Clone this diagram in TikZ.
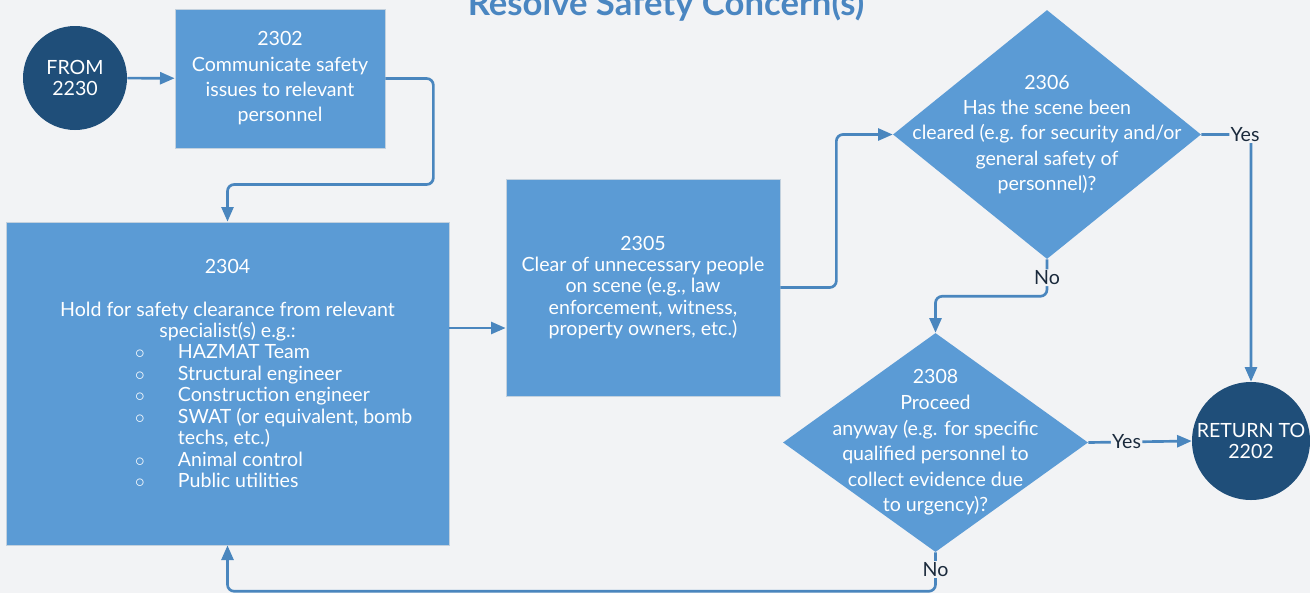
\documentclass[tikz,border=0pt]{standalone}
\usepackage{fontspec}
\setmainfont{Lato}
\usepackage{xcolor}
\usepackage{tikz}
\usetikzlibrary{arrows.meta,shapes.geometric}

\definecolor{bgcol}{HTML}{F2F3F5}
\definecolor{boxcol}{HTML}{5B9BD5}
\definecolor{edgecol}{HTML}{C3D1DE}
\definecolor{termcol}{HTML}{1F4E79}
\definecolor{arrowcol}{HTML}{4A86BE}
\definecolor{labcol}{HTML}{1B2A3C}
\definecolor{titlecol}{HTML}{4A86C1}

\tikzset{
	stepbox/.style={rectangle,fill=boxcol,draw=edgecol,line width=0.5pt,text=white,align=center,font=\fontsize{14.7}{19}\selectfont},
	decision/.style={diamond,fill=boxcol,inner sep=0pt},
	term/.style={circle,fill=termcol,text=white,align=center,inner sep=0pt,font=\fontsize{14.7}{16}\selectfont},
	flow/.style={draw=arrowcol,line width=2pt,rounded corners=5pt,-{Triangle[length=11pt,width=9pt]}},
	lbl/.style={fill=bgcol,text=labcol,inner sep=1pt,font=\fontsize{14.7}{16}\selectfont},
	title/.style={text=titlecol,font=\bfseries\fontsize{26}{30}\selectfont}
}

\begin{document}
\begin{tikzpicture}[x=0.75pt,y=-0.75pt]
	\useasboundingbox (0,0) rectangle (1310,593);
	\fill[bgcol] (0,0) rectangle (1310,593);
	%
	\node[title,anchor=base] (ttl) at (666,15) {Resolve Safety Concern(s)};
	%
	\node[term,minimum size=78pt] (from) at (75,78) {FROM\\2230};
	\node[term,minimum size=88.5pt] (ret) at (1251,441) {RETURN TO\\2202};
	%
	\node[stepbox,minimum width=157.5pt,minimum height=104.25pt] (b2302) at (280,78.5)
		{2302\\Communicate safety\\issues to relevant\\personnel};
	\node[stepbox,minimum width=332.25pt,minimum height=242.25pt,font=\fontsize{14.7}{16}\selectfont] (b2304) at (227.5,383.5)
		{2304\\[16pt]Hold for safety clearance from relevant\\specialist(s) e.g.:\\
		\makebox[138.75pt][l]{\begin{tabular}[t]{@{}l@{\hspace{25pt}}l@{}}
			$\circ$ & HAZMAT Team\\
			$\circ$ & Structural engineer\\
			$\circ$ & Construction engineer\\
			$\circ$ & SWAT (or equivalent, bomb\\
			 & techs, etc.)\\
			$\circ$ & Animal control\\
			$\circ$ & Public utilities\\[10.5pt]
		\end{tabular}}};
	\node[stepbox,minimum width=205.5pt,minimum height=162.75pt,font=\fontsize{14.7}{16}\selectfont] (b2305) at (643,287.5)
		{2305\\Clear of unnecessary people\\on scene (e.g., law\\enforcement, witness,\\property owners, etc.)};
	%
	\node[decision,minimum width=231pt,minimum height=186.75pt,
		label={[text=white,align=center,font=\fontsize{14.7}{19}\selectfont]center:2306\\Has the scene been\\cleared (e.g. for security and/or\\general safety of\\personnel)?}] (d2306) at (1047,134.5) {};
	\node[decision,minimum width=228.75pt,minimum height=164.25pt,
		label={[text=white,align=center,font=\fontsize{14.7}{19.2}\selectfont]center:2308\\Proceed\\anyway (e.g. for specific\\qualified personnel to\\collect evidence due\\to urgency)?}] (d2308) at (935.5,442.5) {};
	%
	\draw[flow] (from) -- (b2302);
	\draw[flow] (b2302.east) -- ++(48,0) -- ++(0,106) -| (b2304.north);
	\draw[flow] (b2304.east |- 0,328) -- (b2305.west |- 0,328);
	\draw[flow] (b2305.east) -- ++(56,0) |- (d2306.west);
	\draw[flow] (d2306.east) -- (d2306.east -| ret.north) node[lbl,pos=0.88] {Yes} -- (ret.north);
	\draw[flow] (d2306.south) -- ++(0,37) node[lbl,pos=0.5] {No} -| (d2308.north);
	\draw[flow] (d2308.east) -- node[lbl,pos=0.37] {Yes} (ret.west);
	\draw[flow] (d2308.south) -- ++(0,39) node[lbl,pos=0.44] {No} -| (b2304.south);
\end{tikzpicture}
\end{document}
